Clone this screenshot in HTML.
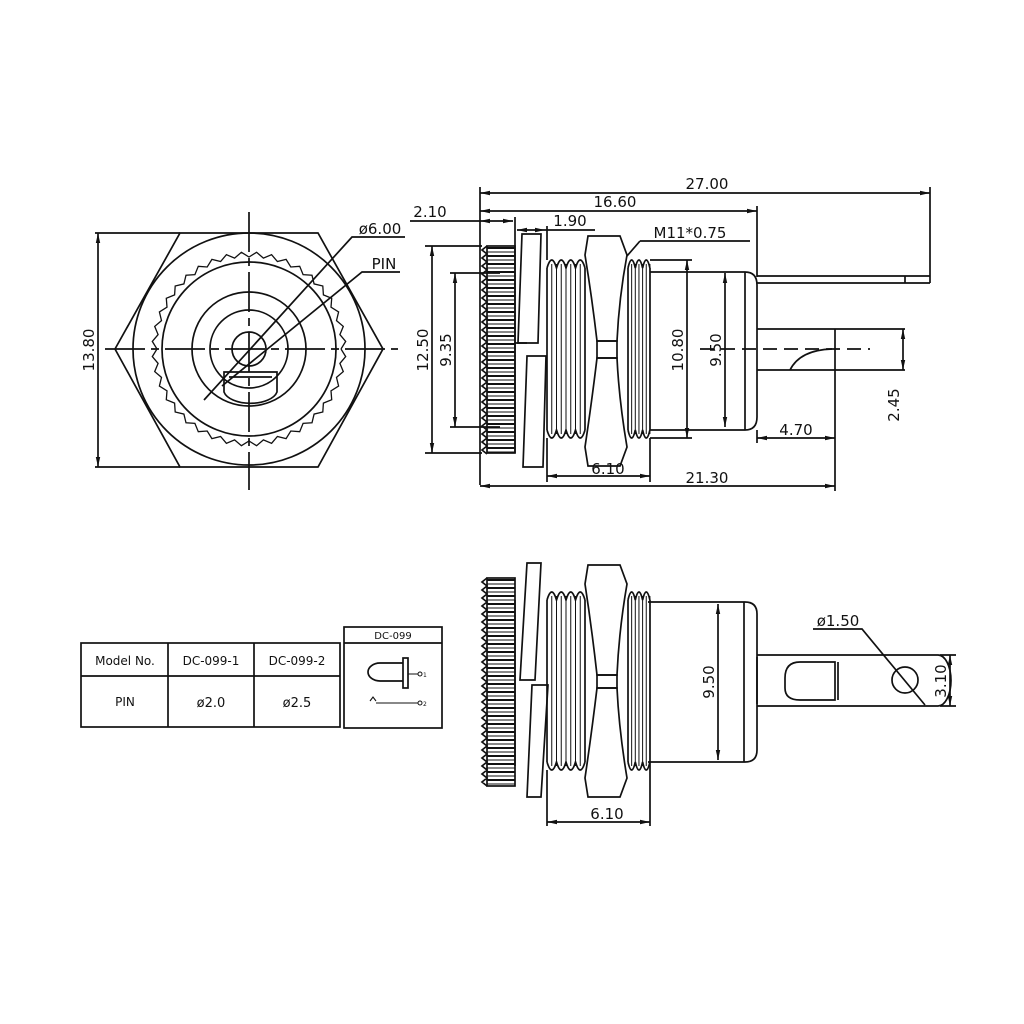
<!DOCTYPE html>
<html><head><meta charset="utf-8"><style>
html,body{margin:0;padding:0;background:#fff;}
svg{display:block}
text{font-family:"DejaVu Sans","Liberation Sans",sans-serif;fill:#111}
</style></head><body>
<svg id="s" width="1024" height="1024" viewBox="0 0 1024 1024" xmlns="http://www.w3.org/2000/svg">
<defs>
<marker id="a" viewBox="0 0 10 6" refX="10" refY="3" markerWidth="10" markerHeight="6" orient="auto-start-reverse" markerUnits="userSpaceOnUse"><path d="M0,0.8 L10,3 L0,5.2 Z" fill="#111"/></marker>
</defs>
<g id="g" fill="none" stroke="#111" stroke-width="1.7">
<!-- FRONT VIEW -->
<polygon points="180,233 318,233 383,349 318,467 180,467 115,349"/>
<circle cx="249" cy="349" r="116"/>
<circle cx="249" cy="349" r="87"/>
<polyline id="serr" stroke-width="1.3"/>
<circle cx="249" cy="349" r="57"/>
<circle cx="249" cy="349" r="39"/>
<circle cx="249" cy="349" r="17"/>
<path d="M224,372 L277,372 L277,392 A27,14 0 0 1 224,392 Z"/>
<path d="M229,377 L272,377"/>
<path d="M249,212 V490" stroke-dasharray="40,6,8,6"/>
<path d="M105,349 H398" stroke-dasharray="40,6,8,6"/>
<line x1="98" y1="233" x2="98" y2="467" marker-start="url(#a)" marker-end="url(#a)"/>
<path d="M95,233 H180 M95,467 H180"/>
<path d="M204,400 L352,237 H405"/>
<path d="M222,386 L362,272 H400"/>

<!-- SIDE VIEW -->
<path d="M480,187 V485"/>
<line x1="480" y1="193" x2="930" y2="193" marker-start="url(#a)" marker-end="url(#a)"/>
<path d="M930,187 V283"/>
<line x1="480" y1="211" x2="757" y2="211" marker-start="url(#a)" marker-end="url(#a)"/>
<path d="M757,206 V277"/>
<line x1="480" y1="221" x2="513" y2="221" marker-start="url(#a)" marker-end="url(#a)"/>
<path d="M410,221 H480"/>
<path d="M515,217 V246"/>
<path d="M517,230 H545" marker-start="url(#a)" marker-end="url(#a)"/>
<path d="M545,230 H595"/>
<path d="M547,226 V260"/>
<path d="M640,241 H750 M640,241 L627,256"/>
<g id="knurl1"></g>
<polygon points="522,234 541,234 538,343 518,343"/>
<polygon points="527,356 546,356 543,467 523,467"/>
<path d="M515,246 V453 M518,343 H527 M515,343 H520"/>
<g id="thr1"></g>
<path d="M588,236 L620,236 L627,255 Q619,298 617,341 L597,341 Q592,298 585,255 Z"/>
<path d="M588,466 L620,466 L627,447 Q619,400 617,358 L597,358 Q592,400 585,447 Z"/>
<rect x="597" y="341" width="20" height="17"/>
<path d="M650,272 H745 M650,430 H745 M745,272 V430"/>
<path d="M745,272 Q757,272 757,285 V417 Q757,430 745,430"/>
<path d="M757,276 H930 M757,283 H930 M905,276 V283"/>
<path d="M757,329 H905 M757,370 H905 M835,329 V450"/>
<path d="M790,370 Q800,350 832,349"/>
<path d="M700,349 H870" stroke-dasharray="14,7"/>
<path d="M425,246 H482 M425,453 H482 M450,273 H500 M450,427 H500"/>
<line x1="432" y1="246" x2="432" y2="453" marker-start="url(#a)" marker-end="url(#a)"/>
<line x1="455" y1="273" x2="455" y2="427" marker-start="url(#a)" marker-end="url(#a)"/>
<path d="M650,260 H692 M650,438 H692"/>
<line x1="687" y1="260" x2="687" y2="438" marker-start="url(#a)" marker-end="url(#a)"/>
<line x1="725" y1="273" x2="725" y2="427" marker-start="url(#a)" marker-end="url(#a)"/>
<line x1="903" y1="329" x2="903" y2="370" marker-start="url(#a)" marker-end="url(#a)"/>
<line x1="757" y1="438" x2="835" y2="438" marker-start="url(#a)" marker-end="url(#a)"/>
<path d="M757,430 V443 M547,438 V482 M650,438 V482"/>
<line x1="547" y1="476" x2="650" y2="476" marker-start="url(#a)" marker-end="url(#a)"/>
<line x1="480" y1="486" x2="835" y2="486" marker-start="url(#a)" marker-end="url(#a)"/>
<path d="M835,450 V491"/>

<!-- BOTTOM VIEW -->
<g id="knurl2"></g>
<polygon points="527,563 541,563 535,680 520,680"/>
<polygon points="532,685 548,685 541,797 527,797"/>
<path d="M515,600 V766"/>
<g id="thr2"></g>
<path d="M588,565 L620,565 L627,584 Q619,630 617,675 L597,675 Q592,630 585,584 Z"/>
<path d="M588,797 L620,797 L627,778 Q619,730 617,688 L597,688 Q592,730 585,778 Z"/>
<rect x="597" y="675" width="20" height="13"/>
<path d="M648,602 H745 Q757,602 757,614 V750 Q757,762 745,762 H648 M744,602 V762"/>
<path d="M757,655 H938 A13,25.5 0 0 1 938,706 H757" />
<path d="M757,657 V704"/>
<path d="M835,662 H800 Q785,662 785,678 V688 Q785,700 800,700 H835 Z"/>
<path d="M838,662 V700"/>
<circle cx="905" cy="680" r="13"/>
<path d="M813,629 H862 L925,705"/>
<path d="M940,655 H956 M940,706 H956"/>
<line x1="950" y1="655" x2="950" y2="706" marker-start="url(#a)" marker-end="url(#a)"/>
<line x1="718" y1="604" x2="718" y2="760" marker-start="url(#a)" marker-end="url(#a)"/>
<path d="M547,770 V826 M650,762 V826"/>
<line x1="547" y1="822" x2="650" y2="822" marker-start="url(#a)" marker-end="url(#a)"/>

<!-- TABLE -->
<rect x="81" y="643" width="259" height="84"/>
<path d="M81,676 H340 M168,643 V727 M254,643 V727"/>
<rect x="344" y="627" width="98" height="101"/>
<path d="M344,643 H442"/>
<path d="M403,663 H380 A12,9 0 0 0 380,681 H403"/>
<rect x="403" y="658" width="5" height="30"/>
<path d="M408,674 H418 M376,703 H418 M370,701 L373,697 L376,701" stroke-width="1.1"/>
<circle cx="420" cy="674" r="2" stroke-width="1"/>
<circle cx="420" cy="703" r="2" stroke-width="1"/>
</g>
<g font-size="15">
<text x="707" y="189" text-anchor="middle">27.00</text>
<text x="615" y="207" text-anchor="middle">16.60</text>
<text x="430" y="217" text-anchor="middle">2.10</text>
<text x="570" y="226" text-anchor="middle">1.90</text>
<text x="690" y="238" text-anchor="middle">M11*0.75</text>
<text x="380" y="234" text-anchor="middle">ø6.00</text>
<text x="384" y="269" text-anchor="middle">PIN</text>
<text transform="translate(94,350) rotate(-90)" text-anchor="middle">13.80</text>
<text transform="translate(428,350) rotate(-90)" text-anchor="middle">12.50</text>
<text transform="translate(451,350) rotate(-90)" text-anchor="middle">9.35</text>
<text transform="translate(683,350) rotate(-90)" text-anchor="middle">10.80</text>
<text transform="translate(721,350) rotate(-90)" text-anchor="middle">9.50</text>
<text transform="translate(899,405) rotate(-90)" text-anchor="middle">2.45</text>
<text x="796" y="435" text-anchor="middle">4.70</text>
<text x="608" y="474" text-anchor="middle">6.10</text>
<text x="707" y="483" text-anchor="middle">21.30</text>
<text transform="translate(714,682) rotate(-90)" text-anchor="middle">9.50</text>
<text x="838" y="626" text-anchor="middle">ø1.50</text>
<text transform="translate(946,681) rotate(-90)" text-anchor="middle">3.10</text>
<text x="607" y="819" text-anchor="middle">6.10</text>
</g>
<g font-size="12">
<text x="125" y="665" text-anchor="middle">Model No.</text>
<text x="211" y="665" text-anchor="middle">DC-099-1</text>
<text x="297" y="665" text-anchor="middle">DC-099-2</text>
<text x="125" y="706" text-anchor="middle">PIN</text>
<text x="211" y="707" text-anchor="middle" font-size="13">ø2.0</text>
<text x="297" y="707" text-anchor="middle" font-size="13">ø2.5</text>
<text x="393" y="639" text-anchor="middle" font-size="10">DC-099</text>
<text x="423" y="677" font-size="6">1</text>
<text x="423" y="706" font-size="6">2</text>
</g>
</svg>
<script>
var NS="http://www.w3.org/2000/svg";
function el(p,t,a){var e=document.createElementNS(NS,t);for(var k in a)e.setAttribute(k,a[k]);p.appendChild(e);return e;}
var pts=[],n=40;
for(var i=0;i<=n*2;i++){var ang=i*Math.PI/n;var r=(i%2)?97:92;pts.push((249+r*Math.cos(ang)).toFixed(1)+","+(349+r*Math.sin(ang)).toFixed(1));}
document.getElementById("serr").setAttribute("points",pts.join(" "));
function knurl(id,y0,y1){
 var g=document.getElementById(id);
 el(g,"rect",{x:487,y:y0,width:28,height:y1-y0});
 var d="M487,"+y0;
 for(var y=y0;y<y1;y+=8){d+=" L482,"+(y+4)+" L487,"+(y+8);}
 el(g,"path",{d:d});
 for(var y=y0+2;y<y1;y+=4){el(g,"line",{x1:487,y1:y,x2:515,y2:y,"stroke-width":((y-y0)%8==2?2:1)});}
}
knurl("knurl1",246,453);
knurl("knurl2",578,786);
function thr(id,y0,y1){
 var g=document.getElementById(id);
 var segs=[[547,585,9.5],[628,650,7.3]];
 segs.forEach(function(s){
  var w=s[2];
  var dt="M"+s[0]+","+(y0+8),db="M"+s[0]+","+(y1-8);
  for(var x=s[0];x<s[1]-0.5;x+=w){var xe=Math.min(x+w,s[1]);dt+=" Q"+(x+w/2)+","+(y0-8)+" "+xe+","+(y0+8);db+=" Q"+(x+w/2)+","+(y1+8)+" "+xe+","+(y1-8);}
  el(g,"path",{d:dt});el(g,"path",{d:db});
  el(g,"line",{x1:s[0],y1:y0+8,x2:s[0],y2:y1-8});
  el(g,"line",{x1:s[1],y1:y0+8,x2:s[1],y2:y1-8});
  for(var x=s[0]+w/2;x<s[1];x+=w/2){el(g,"line",{x1:x,y1:y0+4,x2:x,y2:y1-4,"stroke-width":1});}
 });
}
thr("thr1",260,438);
thr("thr2",592,770);
</script>
</body></html>
